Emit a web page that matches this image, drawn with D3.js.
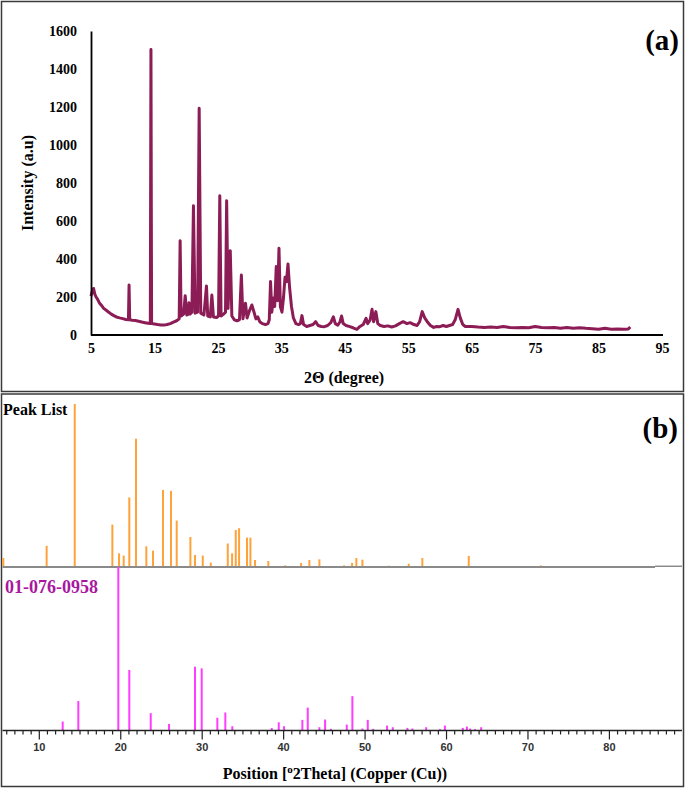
<!DOCTYPE html>
<html><head><meta charset="utf-8">
<script src="https://cdn.jsdelivr.net/npm/d3@7"></script>
<style>
html,body{margin:0;padding:0;background:#fff;}
svg{display:block;}
</style></head>
<body>
<script>
// ---------- DATA ----------
// (a) XRD trace: [2theta, intensity]
const xrdTheta = [5.0,5.2,5.4,5.6,5.8,6.0,6.3,6.6,7.0,7.4,7.8,8.2,8.6,9.0,9.5,10.0,10.5,10.9,11.0,11.1,11.5,12.0,12.5,13.0,13.5,14.0,14.35,14.45,14.55,15.0,15.5,16.0,16.5,17.0,17.5,18.0,18.5,18.9,19.05,19.2,19.6,19.85,20.1,20.35,20.45,20.6,20.9,21.15,21.4,21.8,22.05,22.3,22.8,23.2,23.4,23.8,24.05,24.3,24.8,25.1,25.3,25.5,25.9,26.2,26.38,26.6,26.95,27.2,27.6,28.0,28.4,28.7,28.95,29.35,29.6,30.0,30.35,30.7,31.0,31.3,31.6,32.0,32.5,32.9,33.1,33.3,33.5,33.75,33.95,34.2,34.4,34.63,34.85,35.1,35.35,35.58,35.8,36.05,36.3,36.6,36.9,37.3,37.7,38.0,38.25,38.5,39.0,39.5,40.0,40.4,40.8,41.3,41.8,42.3,42.8,43.2,43.5,43.9,44.25,44.5,44.75,45.2,45.8,46.3,46.9,47.4,47.9,48.35,48.6,49.0,49.3,49.55,49.9,50.2,50.6,51.2,51.8,52.4,53.0,53.6,54.2,54.8,55.3,55.9,56.4,56.8,57.2,57.6,58.0,58.5,59.0,59.5,60.0,60.5,61.0,61.5,62.0,62.4,62.85,63.2,63.6,64.0,65,66,67,68,69,70,71,72,73,74,75,76,77,78,79,80,81,82,83,84,85,86,87,88,89,89.7,90];
const xrdIntensity = [205,232,245,215,200,190,170,158,140,130,120,110,102,95,90,86,82,80,263,80,78,76,72,68,65,62,60,1503,60,58,55,53,52,55,60,68,75,85,496,100,110,207,105,110,170,110,120,680,115,120,1193,115,105,258,100,95,210,95,92,100,733,100,110,120,707,140,444,100,80,75,80,316,85,167,90,130,158,120,85,95,70,60,55,60,80,281,120,195,150,360,180,456,150,120,200,304,280,374,250,150,90,60,55,60,102,55,45,50,55,70,50,45,44,50,65,96,60,52,70,100,60,50,44,38,30,45,55,88,60,80,135,70,123,60,50,45,48,42,48,60,70,60,65,55,50,70,123,90,70,50,40,45,44,50,45,50,55,80,135,90,55,45,45,42,40,42,40,45,40,38,40,38,45,40,38,40,35,40,35,38,35,33,30,35,30,32,30,32,42];
const topXTicks = [5,15,25,35,45,55,65,75,85,95];
const topYTicks = [0,200,400,600,800,1000,1200,1400,1600];

// (b) Peak list (orange): 2theta and relative intensity (%)
const peakTheta = [5.58,10.9,14.35,18.97,19.79,20.36,21.05,21.87,23.14,23.96,25.19,26.17,26.87,28.55,29.12,30.07,31.05,33.14,33.67,34.12,34.53,35.5,35.92,36.49,38.12,40.2,42.14,43.16,44.39,47.42,48.4,48.93,49.67,52.9,55.36,57.03,62.73,71.57];
const peakRel   = [5.5,13,100,26,8.4,7,42.7,78.7,12.7,10,47.3,46.7,28.5,18.4,7.4,7,2.7,14.4,8.4,22.7,23.8,18,18,4.3,3.7,1,2.5,4.3,4.7,1,2.5,5.5,4.5,0.8,2,5.5,6.8,1];

// (b) Reference pattern 01-076-0958 (magenta)
const refTheta = [12.87,14.79,19.7,21.05,23.68,25.93,29.12,29.94,31.86,32.84,33.7,38.54,39.4,40.05,42.3,42.96,44.39,45.09,45.8,47.75,48.44,49.67,50.33,51.0,52.7,53.4,55.2,55.8,57.5,59.2,59.8,62.0,62.5,62.9,63.5,64.25];
const refRel   = [5.5,18,100,37,10.6,4,39,38,7.8,11,2.6,1.5,5,2.6,6.5,14,2,6.7,1,3.6,21,1.2,6.5,1,3,2,1.6,1.2,2,0.8,3,1.6,2.4,1.2,0.8,2];
const bottomMajorTicks = [10,20,30,40,50,60,70,80];

// ---------- DRAW ----------
const W = 685, H = 788;
const svg = d3.select("body").append("svg").attr("width", W).attr("height", H);
const serif = "'Liberation Serif','Times New Roman',serif";
const sans = "'Liberation Sans',Arial,sans-serif";

// panel borders
svg.append("rect").attr("x",1.5).attr("y",1.5).attr("width",682).attr("height",390)
  .attr("fill","none").attr("stroke","#3a3a3a").attr("stroke-width",1.5);
svg.append("rect").attr("x",1.5).attr("y",394).attr("width",682).attr("height",392.5)
  .attr("fill","none").attr("stroke","#3a3a3a").attr("stroke-width",1.5);

// ----- (a) -----
const xA = d3.scaleLinear().domain([5,95]).range([91,662]);
const yA = d3.scaleLinear().domain([0,1600]).range([335,31]);
const gA = svg.append("g");

const xrd = xrdTheta.map((t,i)=>[t, xrdIntensity[i]]);
gA.append("path").datum(xrd)
  .attr("d", d3.line().x(d=>xA(d[0])).y(d=>yA(d[1])))
  .attr("fill","none").attr("stroke","#8c1c55").attr("stroke-width",3)
  .attr("stroke-linejoin","round");

// axes
const axYA = gA.append("g").attr("transform",`translate(${xA(5)},0)`)
  .call(d3.axisLeft(yA).tickValues(topYTicks).tickFormat(d3.format("d")).tickSize(0).tickPadding(14));
const axXA = gA.append("g").attr("transform",`translate(0,${yA(0)})`)
  .call(d3.axisBottom(xA).tickValues(topXTicks).tickFormat(d3.format("d")).tickSize(0).tickPadding(8));
[axYA, axXA].forEach(a=>{
  a.select(".domain").attr("stroke","#000").attr("stroke-width",1.8);
  a.selectAll("text").attr("font-family",serif).attr("font-weight","bold")
   .attr("font-size",14).attr("fill","#000");
});
axXA.select(".domain").attr("d",`M${xA(5)},0H${xA(95)+1}`);

gA.append("text").attr("transform","translate(33,183) rotate(-90)")
  .attr("text-anchor","middle").attr("font-family",serif).attr("font-weight","bold")
  .attr("font-size",16).text("Intensity (a.u)");
gA.append("text").attr("x",344).attr("y",383).attr("text-anchor","middle")
  .attr("font-family",serif).attr("font-weight","bold").attr("font-size",16)
  .text("2Θ (degree)");
gA.append("text").attr("x",679).attr("y",50).attr("text-anchor","end")
  .attr("font-family",serif).attr("font-weight","bold").attr("font-size",29)
  .text("(a)");

// ----- (b) -----
const xB = d3.scaleLinear().domain([5.5,88.9]).range([39.3+(5.5-10)*8.143, 681.9]);
const yPeak = d3.scaleLinear().domain([0,100]).range([567,404]);
const yRef = d3.scaleLinear().domain([0,100]).range([730.5,567]);
const gB = svg.append("g");

// peak list baseline
gB.append("line").attr("x1",2.5).attr("x2",xB(85.6)).attr("y1",yPeak(0)).attr("y2",yPeak(0))
  .attr("stroke","#8a8a8a").attr("stroke-width",2.2);
gB.append("line").attr("x1",xB(85.6)).attr("x2",682).attr("y1",yPeak(0)-0.8).attr("y2",yPeak(0)-0.8)
  .attr("stroke","#555").attr("stroke-width",1);

gB.selectAll(".pk").data(peakTheta.map((t,i)=>[t,peakRel[i]])).enter().append("line")
  .attr("x1",d=>xB(d[0])).attr("x2",d=>xB(d[0]))
  .attr("y1",yPeak(0)-1).attr("y2",d=>yPeak(d[1]))
  .attr("stroke","#ffa23a").attr("stroke-width",2);

gB.selectAll(".rf").data(refTheta.map((t,i)=>[t,refRel[i]])).enter().append("line")
  .attr("x1",d=>xB(d[0])).attr("x2",d=>xB(d[0]))
  .attr("y1",yRef(0)).attr("y2",d=>yRef(d[1]))
  .attr("stroke","#ff3cff").attr("stroke-width",2);

// bottom axis
const minorTicks = d3.range(6,89);
const axB = gB.append("g").attr("transform",`translate(0,${yRef(0)})`);
axB.append("line").attr("x1",2.5).attr("x2",682).attr("y1",0).attr("y2",0)
  .attr("stroke","#222").attr("stroke-width",1.6);
axB.selectAll(".mn").data(minorTicks).enter().append("line")
  .attr("x1",d=>xB(d)).attr("x2",d=>xB(d)).attr("y1",0)
  .attr("y2",d=>bottomMajorTicks.includes(d)?9:4)
  .attr("stroke","#222").attr("stroke-width",1.2);
axB.selectAll(".lb").data(bottomMajorTicks).enter().append("text")
  .attr("x",d=>xB(d)).attr("y",20).attr("text-anchor","middle")
  .attr("font-family",sans).attr("font-weight","bold").attr("font-size",11)
  .attr("fill","#333").text(d=>d);

const tt = gB.append("text").attr("x",335).attr("y",779).attr("text-anchor","middle")
  .attr("font-family",serif).attr("font-weight","bold").attr("font-size",16).attr("fill","#000");
tt.append("tspan").text("Position [");
tt.append("tspan").attr("dy",-6).attr("font-size",11).text("o");
tt.append("tspan").attr("dy",6).text("2Theta] (Copper (Cu))");

gB.append("text").attr("x",3).attr("y",415).attr("font-family",serif)
  .attr("font-weight","bold").attr("font-size",16).attr("fill","#000").text("Peak List");
gB.append("text").attr("x",5).attr("y",593).attr("font-family",serif)
  .attr("font-weight","bold").attr("font-size",18).attr("fill","#a8189f").text("01-076-0958");
gB.append("text").attr("x",678).attr("y",438).attr("text-anchor","end")
  .attr("font-family",serif).attr("font-weight","bold").attr("font-size",29)
  .text("(b)");
</script>
</body></html>
